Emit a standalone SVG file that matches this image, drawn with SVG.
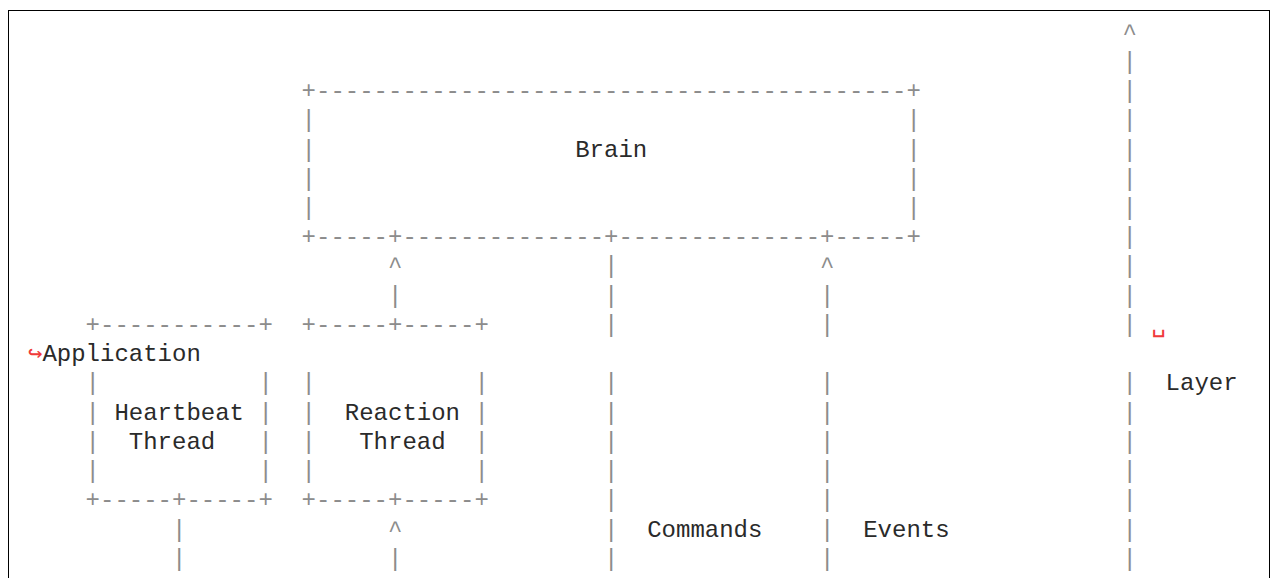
<svg xmlns="http://www.w3.org/2000/svg" width="1275" height="578" viewBox="0 0 1275 578" xml:space="preserve">
  <style>
    text { font-family: "Liberation Mono", "DejaVu Sans Mono", monospace; font-size: 24px; white-space: pre; }
    .g { fill: #8c8c8c; }
    .t { fill: #2a2a2a; }
    .r { fill: #f03a3a; font-family: "DejaVu Sans Mono", "Liberation Mono", monospace; }
  </style>
  <rect x="8.5" y="10.5" width="1261" height="620" fill="#ffffff" stroke="#000000" stroke-width="1"/>

  <!-- Brain box: columns 19..61, rows 2..7 -->
  <g id="node-brain">
    <text class="g" x="301.6" y="98.0">+-----------------------------------------+</text>
    <text class="g"><tspan x="301.6" y="127.2">|</tspan><tspan x="906.4" y="127.2">|</tspan></text>
    <text class="g"><tspan x="301.6" y="156.5">|</tspan><tspan x="906.4" y="156.5">|</tspan></text>
    <text class="g"><tspan x="301.6" y="185.7">|</tspan><tspan x="906.4" y="185.7">|</tspan></text>
    <text class="g"><tspan x="301.6" y="214.9">|</tspan><tspan x="906.4" y="214.9">|</tspan></text>
    <text class="g" x="301.6" y="244.2">+-----+--------------+--------------+-----+</text>
    <text class="t" x="575.2" y="156.5">Brain</text>
  </g>

  <!-- Heartbeat Thread box: columns 4..16, rows 10..16 -->
  <g id="node-heartbeat">
    <text class="g" x="85.6" y="331.9">+-----------+</text>
    <text class="g"><tspan x="85.6" y="390.4">|</tspan><tspan x="258.4" y="390.4">|</tspan></text>
    <text class="g"><tspan x="85.6" y="419.6">|</tspan><tspan x="258.4" y="419.6">|</tspan></text>
    <text class="g"><tspan x="85.6" y="448.9">|</tspan><tspan x="258.4" y="448.9">|</tspan></text>
    <text class="g"><tspan x="85.6" y="478.1">|</tspan><tspan x="258.4" y="478.1">|</tspan></text>
    <text class="g" x="85.6" y="507.3">+-----+-----+</text>
    <text class="t" x="114.4" y="419.6">Heartbeat</text>
    <text class="t" x="128.8" y="448.9">Thread</text>
  </g>

  <!-- Reaction Thread box: columns 19..31, rows 10..16 -->
  <g id="node-reaction">
    <text class="g" x="301.6" y="331.9">+-----+-----+</text>
    <text class="g"><tspan x="301.6" y="390.4">|</tspan><tspan x="474.4" y="390.4">|</tspan></text>
    <text class="g"><tspan x="301.6" y="419.6">|</tspan><tspan x="474.4" y="419.6">|</tspan></text>
    <text class="g"><tspan x="301.6" y="448.9">|</tspan><tspan x="474.4" y="448.9">|</tspan></text>
    <text class="g"><tspan x="301.6" y="478.1">|</tspan><tspan x="474.4" y="478.1">|</tspan></text>
    <text class="g" x="301.6" y="507.3">+-----+-----+</text>
    <text class="t" x="344.8" y="419.6">Reaction</text>
    <text class="t" x="359.2" y="448.9">Thread</text>
  </g>

  <!-- Application Layer label (wrapped line) -->
  <g id="node-layer-label">
    <text class="r" x="1151.2" y="331.9">␣</text>
    <text class="r" x="28" y="361.1">↪</text>
    <text class="t" x="42.4" y="361.1">Application</text>
    <text class="t" x="1165.6" y="390.4">Layer</text>
  </g>

  <!-- Vertical connectors drawn as character columns -->
  <g id="connectors" class="g">
    <!-- Reaction Thread up to Brain -->
    <text class="g"><tspan x="388" y="273.4">^</tspan><tspan x="388" y="302.7">|</tspan></text>
    <!-- Brain down (Commands) -->
    <text class="g"><tspan x="604" y="273.4">|</tspan><tspan x="604" y="302.7">|</tspan><tspan x="604" y="331.9">|</tspan><tspan x="604" y="390.4">|</tspan><tspan x="604" y="419.6">|</tspan><tspan x="604" y="448.9">|</tspan><tspan x="604" y="478.1">|</tspan><tspan x="604" y="507.3">|</tspan><tspan x="604" y="536.6">|</tspan><tspan x="604" y="565.8">|</tspan></text>
    <!-- Events up to Brain -->
    <text class="g"><tspan x="820" y="273.4">^</tspan><tspan x="820" y="302.7">|</tspan><tspan x="820" y="331.9">|</tspan><tspan x="820" y="390.4">|</tspan><tspan x="820" y="419.6">|</tspan><tspan x="820" y="448.9">|</tspan><tspan x="820" y="478.1">|</tspan><tspan x="820" y="507.3">|</tspan><tspan x="820" y="536.6">|</tspan><tspan x="820" y="565.8">|</tspan></text>
    <!-- Layer axis -->
    <text class="g"><tspan x="1122.4" y="39.5">^</tspan><tspan x="1122.4" y="68.7">|</tspan><tspan x="1122.4" y="98.0">|</tspan><tspan x="1122.4" y="127.2">|</tspan><tspan x="1122.4" y="156.5">|</tspan><tspan x="1122.4" y="185.7">|</tspan><tspan x="1122.4" y="214.9">|</tspan><tspan x="1122.4" y="244.2">|</tspan><tspan x="1122.4" y="273.4">|</tspan><tspan x="1122.4" y="302.7">|</tspan><tspan x="1122.4" y="331.9">|</tspan><tspan x="1122.4" y="390.4">|</tspan><tspan x="1122.4" y="419.6">|</tspan><tspan x="1122.4" y="448.9">|</tspan><tspan x="1122.4" y="478.1">|</tspan><tspan x="1122.4" y="507.3">|</tspan><tspan x="1122.4" y="536.6">|</tspan><tspan x="1122.4" y="565.8">|</tspan></text>
    <!-- Heartbeat Thread down -->
    <text class="g"><tspan x="172" y="536.6">|</tspan><tspan x="172" y="565.8">|</tspan></text>
    <!-- Up into Reaction Thread -->
    <text class="g"><tspan x="388" y="536.6">^</tspan><tspan x="388" y="565.8">|</tspan></text>
    <!-- Connector labels -->
    <text class="t" x="647.2" y="536.6">Commands</text>
    <text class="t" x="863.2" y="536.6">Events</text>
  </g>
</svg>
